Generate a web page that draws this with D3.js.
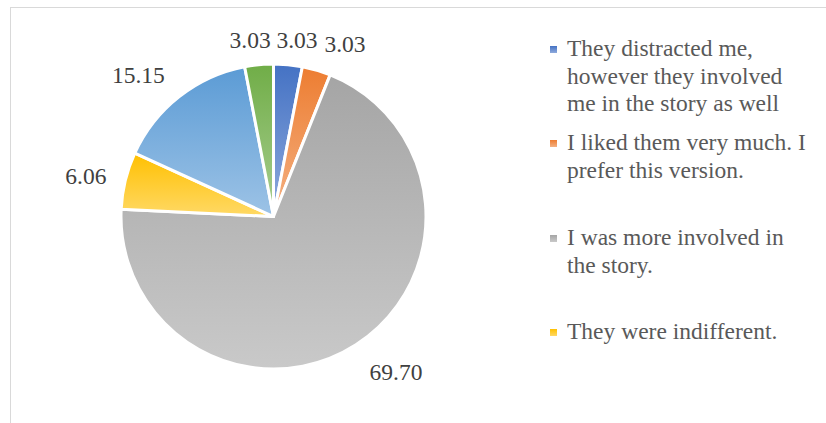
<!DOCTYPE html>
<html>
<head>
<meta charset="utf-8">
<script src="https://cdn.jsdelivr.net/npm/d3@7"></script>
<style>
  @font-face { font-family: "ChartSerif"; src: local("Liberation Serif"), local("LiberationSerif"), local("Liberation Serif Regular"), local("LiberationSerif-Regular"); }
  html, body { margin: 0; padding: 0; background: #fff; }
  svg { display: block; font-family: "Liberation Serif", "ChartSerif", Tinos, "Times New Roman", Times; }
</style>
</head>
<body>
<svg id="chart" width="826" height="423" font-family="Liberation Serif, Tinos, Times New Roman, Times"></svg>
<script>
// ---- data ----
const categories = [
  "They distracted me, however they involved me in the story as well",
  "I liked them very much. I prefer this version.",
  "I was more involved in the story.",
  "They were indifferent.",
  "Category 5",
  "Category 6"
];
const values = [3.03, 3.03, 69.70, 6.06, 15.15, 3.03];
const valueLabels = ["3.03", "3.03", "69.70", "6.06", "15.15", "3.03"];
const legendLines = [
  ["They distracted me,", "however they involved", "me in the story as well"],
  ["I liked them very much. I", "prefer this version."],
  ["I was more involved in", "the story."],
  ["They were indifferent."]
];
const colors = ["#4472c4", "#ed7d31", "#a5a5a5", "#ffc000", "#5b9bd5", "#70ad47"];

// ---- layout ----
const FONT = '"Liberation Serif", "ChartSerif", Tinos, "Times New Roman", Times';
const svg = d3.select("#chart");
const W = 826, H = 423;
const cx = 273.5, cy = 216.5, R = 152.5;

svg.append("rect").attr("x", 0).attr("y", 0).attr("width", W).attr("height", H).attr("fill", "#fff");
svg.append("rect").attr("x", 10.5).attr("y", 7.5).attr("width", 840).attr("height", 440)
  .attr("fill", "none").attr("stroke", "#d9d9d9").attr("stroke-width", 1);

const defs = svg.append("defs");
colors.forEach((c, i) => {
  const gr = defs.append("linearGradient").attr("id", "grad" + i)
    .attr("x1", 0).attr("y1", 0).attr("x2", 0).attr("y2", 1);
  gr.append("stop").attr("offset", "0%").attr("stop-color", c);
  gr.append("stop").attr("offset", "100%").attr("stop-color", d3.interpolateRgb(c, "#ffffff")(0.4));
});

const pie = d3.pie().sort(null).value(d => d);
const arcs = pie(values);
const arc = d3.arc().innerRadius(0).outerRadius(R);

const pieG = svg.append("g").attr("transform", `translate(${cx},${cy})`);
pieG.selectAll("path").data(arcs).enter().append("path")
  .attr("d", arc)
  .attr("fill", (d, i) => `url(#grad${i})`)
  .attr("stroke", "#fff")
  .attr("stroke-width", 3)
  .attr("stroke-linejoin", "round");

// label placement (outside end, with Excel-like spreading)
const angleNudge = [2.15, 6.1, -5.5, -1.4, -5.4, -2.1]; // degrees
const labelDist = [178, 187, 198, 192, 196, 178];
const labelAngle = (d, i) => (d.startAngle + d.endAngle) / 2 + angleNudge[i] * Math.PI / 180;
pieG.selectAll("text.lbl").data(arcs).enter().append("text")
  .attr("class", "lbl")
  .attr("x", (d, i) => Math.sin(labelAngle(d, i)) * labelDist[i])
  .attr("y", (d, i) => -Math.cos(labelAngle(d, i)) * labelDist[i] + 8)
  .attr("text-anchor", "middle")
  .style("font-family", FONT)
  .style("font-size", "23.5px")
  .attr("fill", "#404040")
  .text((d, i) => valueLabels[i]);

// legend
const legendX = 550, textX = 567;
const legendBaselines = [[56, 83.5, 111], [150, 178], [245, 273], [339]];
const lg = svg.append("g");
legendLines.forEach((lines, i) => {
  lg.append("rect").attr("x", legendX).attr("y", legendBaselines[i][0] - 10)
    .attr("width", 7).attr("height", 7).attr("fill", `url(#grad${i})`);
  lines.forEach((t, j) => {
    lg.append("text")
      .attr("x", textX).attr("y", legendBaselines[i][j])
      .style("font-family", FONT)
      .style("font-size", "23.5px")
      .attr("fill", "#595959")
      .text(t);
  });
});
</script>
</body>
</html>
